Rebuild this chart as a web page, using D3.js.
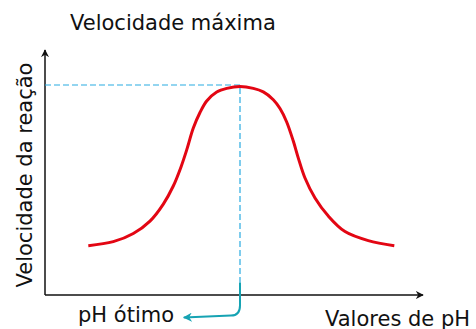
<!DOCTYPE html>
<html>
<head>
<meta charset="utf-8">
<script src="https://cdn.jsdelivr.net/npm/d3@7"></script>
<style>
  html, body { margin: 0; padding: 0; background: #fff; }
  svg { display: block; font-family: "DejaVu Sans", Verdana, sans-serif; }
</style>
</head>
<body>
<svg id="chart" width="476" height="329"></svg>
<script>
// Enzyme activity as a function of pH (relative units)
const phValues = [11.55, 18.21, 23.55, 28.0, 31.55, 34.21, 36.27, 37.79, 39.55, 41.33, 43.12, 45.79, 48.45, 52.0,
                  55.55, 58.21, 60.88, 62.67, 64.45, 66.21, 67.55, 69.33, 72.0, 75.55, 80.0, 86.21, 93.15];
const rateValues = [23.5, 25.4, 29.3, 35.2, 43.3, 51.9, 61.0, 69.1, 79.5, 86.9, 92.4, 96.7, 98.4, 99.3,
                    98.4, 96.7, 93.0, 88.8, 82.4, 73.3, 65.2, 55.7, 46.2, 37.6, 30.2, 25.9, 23.5];
const optimumPh = 52;
const maxRate = 100;

const titleText = "Velocidade máxima";
const yLabelText = "Velocidade da reação";
const xLabelText = "Valores de pH";
const optimumText = "pH ótimo";

const svg = d3.select("#chart");

const x = d3.scaleLinear().domain([0, 100]).range([45, 420]);
const y = d3.scaleLinear().domain([0, 100]).range([295, 85]);

const black = "#111";
const red = "#e30613";
const blue = "#29abe2";
const teal = "#16a3b3";

const defs = svg.append("defs");
function arrowMarker(id, color, size) {
  defs.append("marker")
    .attr("id", id)
    .attr("viewBox", "0 0 10 10")
    .attr("refX", 9).attr("refY", 5)
    .attr("markerWidth", size).attr("markerHeight", size)
    .attr("markerUnits", "userSpaceOnUse")
    .attr("orient", "auto")
    .append("path")
    .attr("d", "M0,0 L10,5 L0,10 L3,5 Z")
    .attr("fill", color);
}
arrowMarker("arrowBlack", black, 8);
arrowMarker("arrowTeal", teal, 9);

// Axes with arrow tips
svg.append("line")
  .attr("x1", x(0)).attr("y1", y(0))
  .attr("x2", x(100.8)).attr("y2", y(0))
  .attr("stroke", black).attr("stroke-width", 1.5)
  .attr("marker-end", "url(#arrowBlack)");
svg.append("line")
  .attr("x1", x(0)).attr("y1", y(0))
  .attr("x2", x(0)).attr("y2", y(116.7))
  .attr("stroke", black).attr("stroke-width", 1.5)
  .attr("marker-end", "url(#arrowBlack)");

// Dashed guides to the maximum
svg.append("path")
  .attr("d", `M${x(0)},${y(maxRate)} H${x(optimumPh)} V${y(6)}`)
  .attr("fill", "none")
  .attr("stroke", blue).attr("stroke-width", 1.2)
  .attr("stroke-dasharray", "6,3");

// Curve
const line = d3.line()
  .x((d, i) => x(phValues[i]))
  .y(d => y(d))
  .curve(d3.curveCatmullRom.alpha(0.5));
svg.append("path")
  .attr("d", line(rateValues))
  .attr("fill", "none")
  .attr("stroke", red).attr("stroke-width", 3)
  .attr("stroke-linecap", "butt");

// Pointer to the optimum label
const ox = x(optimumPh);
svg.append("path")
  .attr("d", `M${ox},${y(6)} V${y(-5)} Q${ox},${y(-9.8)} ${ox - 9},${y(-9.8)} L${x(37.0)},${y(-10.7)}`)
  .attr("fill", "none")
  .attr("stroke", teal).attr("stroke-width", 2)
  .attr("marker-end", "url(#arrowTeal)");

// Text
svg.append("text").attr("x", 70).attr("y", 30)
  .attr("font-size", 21).attr("fill", black).text(titleText);
svg.append("text")
  .attr("transform", `translate(32,${175}) rotate(-90)`)
  .attr("text-anchor", "middle")
  .attr("font-size", 21).attr("fill", black).text(yLabelText);
svg.append("text").attr("x", 78).attr("y", 322)
  .attr("font-size", 21).attr("fill", black).text(optimumText);
svg.append("text").attr("x", 325).attr("y", 326)
  .attr("font-size", 21).attr("fill", black).text(xLabelText);
</script>
</body>
</html>
